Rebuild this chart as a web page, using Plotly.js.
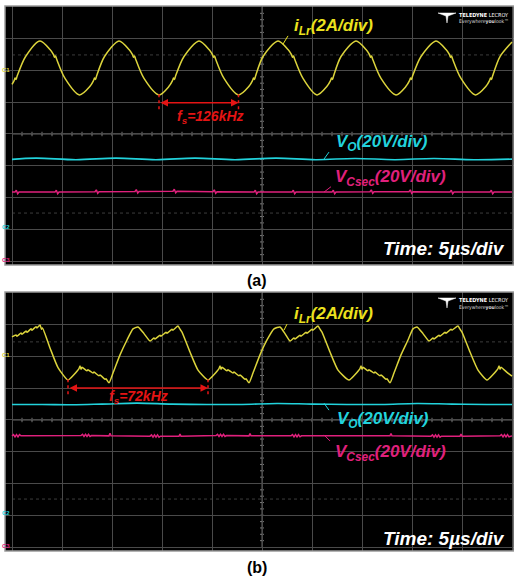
<!DOCTYPE html>
<html>
<head>
<meta charset="utf-8">
<script src="https://cdn.plot.ly/plotly-3.0.1.min.js"></script>
<style>html,body{margin:0;padding:0;background:#fff;}#chart{width:514px;height:581px;}</style>
</head>
<body>
<div id="chart"></div>
<script>
// ---------- DATA (time in µs, amplitude in screen divisions) ----------
// Panel (a): f_s = 126 kHz
const tA_iLr = [0, 0.21,0.31,0.41,0.51, 1.36, 2.8, 3.8, 4.15,4.25,4.35,4.45, 5.3, 6.75, 7.8, 8.15,8.25,8.35,8.45, 9.25,
  10.7, 11.7, 12.05,12.15,12.25,12.35, 13.2, 14.7, 15.7, 16.05,16.15,16.25,16.35, 17.2,
  18.7, 19.7, 20.05,20.15,20.25,20.35, 21.2, 22.65, 23.7, 24.05,24.15,24.25,24.35, 25.1,
  26.6, 27.6, 27.95,28.05,28.15,28.25, 29.1, 30.5, 31.5, 31.85,31.95,32.05,32.15, 32.9,
  34.4, 35.4, 35.75,35.85,35.95,36.05, 36.9, 38.4, 39.4, 39.75,39.85,39.95,40.05, 40.9,
  42.4, 43.4, 43.75,43.85,43.95,44.05, 44.9, 46.35, 47.4, 47.75,47.85,47.95,48.05, 48.8, 50.0];
const iLrA = [1.56, 1.68,1.76,1.72,1.82, 2.44, 2.93, 2.66, 2.50,2.42,2.46,2.37, 1.75, 1.23, 1.50, 1.68,1.76,1.72,1.82, 2.44,
  2.93, 2.66, 2.50,2.42,2.46,2.37, 1.75, 1.23, 1.50, 1.68,1.76,1.72,1.82, 2.44,
  2.93, 2.66, 2.50,2.42,2.46,2.37, 1.75, 1.23, 1.50, 1.68,1.76,1.72,1.82, 2.44,
  2.93, 2.66, 2.50,2.42,2.46,2.37, 1.75, 1.23, 1.50, 1.68,1.76,1.72,1.82, 2.44,
  2.93, 2.66, 2.50,2.42,2.46,2.37, 1.75, 1.23, 1.50, 1.68,1.76,1.72,1.82, 2.44,
  2.93, 2.66, 2.50,2.42,2.46,2.37, 1.75, 1.23, 1.50, 1.68,1.76,1.72,1.82, 2.44, 2.90];

const tA_vo = [0, 2.4, 6.4, 10.4, 14.4, 18.3, 22.3, 26.4, 30.4, 34.3, 38.3, 42.2, 46.2, 50];
const voA   = [-0.80, -0.76, -0.81, -0.76, -0.81, -0.76, -0.81, -0.76, -0.81, -0.77, -0.81, -0.77, -0.81, -0.79];

const tA_vc = [0, 0.3,0.43,0.57,0.7, 4.3,4.43,4.57,4.7, 8.3,8.43,8.57,8.7, 12.3,12.43,12.57,12.7,
  16.1,16.23,16.37,16.5, 20.1,20.23,20.37,20.5, 24.2,24.33,24.47,24.6, 28.0,28.13,28.27,28.4,
  32.0,32.13,32.27,32.4, 35.8,35.93,36.07,36.2, 39.7,39.83,39.97,40.1, 43.8,43.93,44.07,44.2,
  47.8,47.93,48.07,48.2, 50];
const vcA = [-1.83, -1.83,-1.77,-1.88,-1.83, -1.83,-1.77,-1.88,-1.83, -1.82,-1.76,-1.87,-1.82, -1.81,-1.75,-1.86,-1.81,
  -1.80,-1.74,-1.85,-1.80, -1.82,-1.76,-1.87,-1.82, -1.83,-1.77,-1.88,-1.83, -1.83,-1.77,-1.88,-1.83,
  -1.83,-1.77,-1.88,-1.83, -1.82,-1.76,-1.87,-1.82, -1.82,-1.76,-1.87,-1.82, -1.83,-1.77,-1.88,-1.83,
  -1.83,-1.77,-1.88,-1.83, -1.83];

// Panel (b): f_s = 72 kHz
const tB_iLr = [0, 0.4,0.5, 0.9,1.0, 1.4,1.5, 1.9,2.0, 2.4,2.5, 2.8, 2.95,3.05, 3.8, 4.6, 5.6,
  6.7,6.8,6.9,7.0, 7.5,7.6, 8.1,8.2, 8.7,8.8, 9.3,9.4, 9.7, 10.1, 10.8, 11.5, 12.1, 12.6, 13.2, 13.8,
  14.2,14.3, 14.8,14.9, 15.4,15.5, 16.0,16.1, 16.6, 16.8, 17.0, 17.8, 18.6, 19.6,
  20.7,20.8,20.9,21.0, 21.5,21.6, 22.1,22.2, 22.7,22.8, 23.3,23.4, 23.7, 24.1, 24.8, 25.5, 26.2, 26.8, 27.3, 27.8,
  28.2,28.3, 28.8,28.9, 29.4,29.5, 30.0,30.1, 30.6, 30.8, 31.0, 31.8, 32.6, 33.7,
  34.8,34.9,35.0,35.1, 35.6,35.7, 36.2,36.3, 36.8,36.9, 37.4,37.5, 37.8, 38.2, 38.9, 39.6, 40.1, 40.5, 41.1, 41.7,
  42.1,42.2, 42.7,42.8, 43.3,43.4, 43.9,44.0, 44.6, 44.8, 45.0, 45.8, 46.6, 47.5,
  48.6,48.7,48.8,48.9, 49.5, 50.0];
const iLrB = [2.62, 2.68,2.64, 2.74,2.70, 2.80,2.76, 2.87,2.83, 2.94,2.90, 2.99, 2.86,2.90, 2.27, 1.65, 1.26,
  1.62,1.70,1.60,1.66, 1.55,1.58, 1.48,1.51, 1.39,1.42, 1.28,1.30, 1.17, 1.48, 2.05, 2.52, 2.87, 2.93, 2.72, 2.49,
  2.58,2.55, 2.67,2.64, 2.76,2.73, 2.86,2.83, 2.96, 2.86, 2.77, 2.14, 1.57, 1.26,
  1.62,1.70,1.60,1.66, 1.55,1.58, 1.48,1.51, 1.39,1.42, 1.28,1.30, 1.17, 1.48, 2.05, 2.52, 2.87, 2.93, 2.72, 2.49,
  2.58,2.55, 2.67,2.64, 2.76,2.73, 2.86,2.83, 2.96, 2.86, 2.77, 2.14, 1.57, 1.26,
  1.62,1.70,1.60,1.66, 1.55,1.58, 1.48,1.51, 1.39,1.42, 1.28,1.30, 1.17, 1.48, 2.05, 2.52, 2.87, 2.93, 2.72, 2.49,
  2.58,2.55, 2.67,2.64, 2.76,2.73, 2.86,2.83, 2.96, 2.86, 2.77, 2.14, 1.57, 1.26,
  1.62,1.70,1.60,1.66, 1.50, 1.38];

const tB_vo = [0, 3, 6, 9, 12.5, 16, 19.5, 23, 26.5, 30, 33.5, 37, 40.5, 44, 47.5, 50];
const voB   = [0.49, 0.49, 0.48, 0.50, 0.53, 0.50, 0.49, 0.49, 0.52, 0.50, 0.49, 0.49, 0.52, 0.50, 0.49, 0.49];

const tB_vc = [0,0.15,0.3,0.45,0.6,0.75,0.9, 6.9,7.05,7.2,7.35,7.5,7.65,7.8,7.95, 9.7,9.8,9.9,
  13.8,13.95,14.1,14.25,14.4,14.55,14.7,14.85, 16.7,16.8,16.9, 20.4,20.55,20.7,20.85,21.0,21.15,21.3,21.45,
  23.7,23.8,23.9, 27.9,28.05,28.2,28.35,28.5,28.65,28.8,28.95, 37.8,37.9,38.0,
  41.9,42.05,42.2,42.35,42.5,42.65,42.8,42.95, 44.8,44.9,45.0, 48.8,48.95,49.1,49.25,49.4,49.55,49.7,50];
const vcB = [-0.50,-0.46,-0.53,-0.46,-0.53,-0.46,-0.50, -0.49,-0.45,-0.52,-0.45,-0.52,-0.45,-0.52,-0.49, -0.50,-0.42,-0.50,
  -0.51,-0.47,-0.54,-0.47,-0.54,-0.47,-0.54,-0.51, -0.51,-0.44,-0.51, -0.49,-0.45,-0.52,-0.45,-0.52,-0.45,-0.52,-0.49,
  -0.50,-0.43,-0.50, -0.50,-0.46,-0.53,-0.46,-0.53,-0.46,-0.53,-0.50, -0.50,-0.43,-0.50,
  -0.51,-0.47,-0.54,-0.47,-0.54,-0.47,-0.54,-0.51, -0.51,-0.44,-0.51, -0.50,-0.46,-0.53,-0.46,-0.53,-0.46,-0.53,-0.50];

// switching-period markers (trough times) and labels
const fsMarkA = [14.7, 22.65];
const fsMarkB = [5.6, 19.6];
const fsTextA = 'f<sub>s</sub>=126kHz';
const fsTextB = 'f<sub>s</sub>=72kHz';
const labelILr = 'i<sub>Lr</sub>(2A/div)';
const labelVo = 'V<sub>O</sub>(20V/div)';
const labelVc = 'V<sub>Csec</sub>(20V/div)';
const labelTime = 'Time: 5\u00B5s/div';
const panelLabels = ['(a)', '(b)'];

// ---------- STYLE ----------
const W = 514, H = 581;
const YEL = '#dcd43c', YEL_T = '#ece21e', CYA = '#22d3dc', MAG = '#e0207c', RED = '#e41414';
const GRID = '#4a4a4a';
const FONT = 'Liberation Sans, Arial, sans-serif';
const NARROW = 'DejaVu Sans Condensed, Liberation Sans Narrow, sans-serif';
const fx = x => x / W, fy = y => 1 - y / H;

function xax(anchor){ return {domain:[fx(5),1], range:[-0.7,50.2], dtick:5, tick0:0, showgrid:true, gridcolor:GRID, gridwidth:1,
  zeroline:false, showticklabels:false, ticks:'', showline:false, anchor:anchor, fixedrange:true}; }
function yax(anchor, top, bot){ return {domain:[fy(bot), fy(top)], range:[-4.126,4.031], dtick:1, tick0:0, showgrid:true, gridcolor:GRID, gridwidth:1,
  zeroline:false, showticklabels:false, ticks:'', showline:false, anchor:anchor, fixedrange:true}; }

const traces = [
  {x:tA_iLr, y:iLrA, xaxis:'x', yaxis:'y', mode:'lines', line:{color:YEL, width:1.5, shape:'spline', smoothing:0.8}},
  {x:tA_vo, y:voA, xaxis:'x', yaxis:'y', mode:'lines', line:{color:CYA, width:1.6, shape:'spline', smoothing:1}},
  {x:tA_vc, y:vcA, xaxis:'x', yaxis:'y', mode:'lines', line:{color:MAG, width:1.5}},
  {x:tB_iLr, y:iLrB, xaxis:'x2', yaxis:'y2', mode:'lines', line:{color:YEL, width:1.5, shape:'spline', smoothing:0.5}},
  {x:tB_vo, y:voB, xaxis:'x2', yaxis:'y2', mode:'lines', line:{color:CYA, width:1.6, shape:'spline', smoothing:1}},
  {x:tB_vc, y:vcB, xaxis:'x2', yaxis:'y2', mode:'lines', line:{color:MAG, width:1.5}}
];

const shapes = [];
const annotations = [];

function decorate(xr, yr, fsMark, fsY, fsText, fsTextY, fsTextX, lead, dotted) {
  const xd = xr + ' domain', yd = yr + ' domain';
  // frame
  shapes.push({type:'rect', xref:xd, yref:yd, x0:0, x1:1, y0:0, y1:1, line:{color:'#9a9a9a', width:1.5}, layer:'above'});
  // center lines with ticks
  shapes.push({type:'line', xref:xr, yref:yr, x0:0, x1:50, y0:0, y1:0, line:{color:'#666', width:1}, layer:'below'});
  shapes.push({type:'line', xref:xr, yref:yr, x0:25, x1:25, y0:-4, y1:4, line:{color:'#666', width:1}, layer:'below'});
  for (let k = 1; k < 50; k++) shapes.push({type:'line', xref:xr, yref:yr, x0:k, x1:k, y0:-0.07, y1:0.07, line:{color:'#777', width:1}, layer:'below'});
  for (let k = -19; k < 20; k++) shapes.push({type:'line', xref:xr, yref:yr, x0:24.8, x1:25.2, y0:k*0.2, y1:k*0.2, line:{color:'#777', width:1}, layer:'below'});
  // faint dotted level lines
  dotted.forEach(v => shapes.push({type:'line', xref:xr, yref:yr, x0:0, x1:50, y0:v, y1:v, line:{color:'#3c3c3c', width:1, dash:'dot'}, layer:'below'}));
  // fs markers
  fsMark.forEach(t => shapes.push({type:'line', xref:xr, yref:yr, x0:t, x1:t, y0:fsY+0.27, y1:fsY-0.25, line:{color:RED, width:1.5, dash:'dot'}}));
  annotations.push({xref:xr, yref:yr, x:fsMark[1], y:fsY, axref:xr, ayref:yr, ax:fsMark[0], ay:fsY, text:'', showarrow:true,
    arrowhead:2, arrowside:'end+start', arrowsize:1, arrowwidth:1.5, arrowcolor:RED, standoff:0, startstandoff:0});
  annotations.push({xref:xr, yref:yr, x:fsTextX, y:fsTextY, text:'<b><i>'+fsText+'</i></b>', showarrow:false,
    font:{family:FONT, size:14, color:RED}, xanchor:'center', yanchor:'middle'});
  // labels
  annotations.push({xref:xr, yref:yr, x:lead.iL[0], y:lead.iL[1], text:'<b><i>'+labelILr+'</i></b>', showarrow:false, font:{family:FONT, size:17, color:YEL_T}, xanchor:'left', yanchor:'middle'});
  annotations.push({xref:xr, yref:yr, x:lead.vo[0], y:lead.vo[1], text:'<b><i>'+labelVo+'</i></b>', showarrow:false, font:{family:FONT, size:17, color:CYA}, xanchor:'left', yanchor:'middle'});
  annotations.push({xref:xr, yref:yr, x:lead.vc[0], y:lead.vc[1], text:'<b><i>'+labelVc+'</i></b>', showarrow:false, font:{family:FONT, size:17, color:MAG}, xanchor:'left', yanchor:'middle'});
  annotations.push({xref:xr, yref:yr, x:49.5, y:lead.time, text:'<b><i>'+labelTime+'</i></b>', showarrow:false, font:{family:FONT, size:19, color:'#ffffff'}, xanchor:'right', yanchor:'middle'});
  // leader lines
  lead.lines.forEach(l => shapes.push({type:'line', xref:xr, yref:yr, x0:l[0], y0:l[1], x1:l[2], y1:l[3], line:{color:l[4], width:1}}));
  // channel markers
  lead.ch.forEach(c => annotations.push({xref:xr, yref:yr, x:-0.05, y:c[0], text:'<b>'+c[2]+'</b>', showarrow:false, font:{family:FONT, size:6, color:c[1]}, xanchor:'right', yanchor:'middle'}));
}

decorate('x', 'y', fsMarkA, 0.98, fsTextA, 0.52, 19.85,
  {iL:[28.0, 3.37], vo:[32.2, -0.28], vc:[32.1, -1.39], time:-3.62,
   lines:[[27.6,3.09,27.1,2.83,YEL_T],[31.7,-0.57,31.2,-0.79,CYA],[31.9,-1.66,31.2,-1.83,MAG]],
   ch:[[2.02,YEL,'C1'],[-2.93,CYA,'C2'],[-3.98,MAG,'C3']]}, [2.49,-2.49]);
decorate('x2', 'y2', fsMarkB, 1.01, fsTextB, 0.72, 12.6,
  {iL:[28.0, 3.31], vo:[32.3, 0.0], vc:[32.1, -1.03], time:-3.72,
   lines:[[27.5,3.02,27.2,2.83,YEL_T],[31.2,0.53,31.7,0.31,CYA],[31.2,-0.47,31.8,-0.66,MAG]],
   ch:[[2.05,YEL,'C1'],[-2.93,CYA,'C2'],[-3.97,MAG,'C3']]}, [2.46,-2.49]);

// logos (Teledyne LeCroy mark)
[[13,23],[298,308]].forEach(([y1,y2]) => {
  shapes.push({type:'path', xref:'paper', yref:'paper', layer:'above',
    path:`M ${fx(438)} ${fy(y1)} L ${fx(456)} ${fy(y1)} L ${fx(448)} ${fy(y1+3)} L ${fx(447)} ${fy(y2)} L ${fx(446)} ${fy(y1+3)} Z`,
    fillcolor:'#ffffff', line:{color:'#ffffff', width:0.5}});
  annotations.push({xref:'paper', yref:'paper', x:fx(511), y:fy(y1+2), text:'<b>TELEDYNE</b> LECROY', showarrow:false, font:{family:NARROW, size:5.5, color:'#ffffff'}, xanchor:'right', yanchor:'middle'});
  annotations.push({xref:'paper', yref:'paper', x:fx(511), y:fy(y1+9), text:'Everywhere<b>you</b>look\u2122', showarrow:false, font:{family:NARROW, size:5, color:'#dddddd'}, xanchor:'right', yanchor:'middle'});
});

// panel labels
annotations.push({xref:'paper', yref:'paper', x:fx(257), y:fy(280), text:'<b>'+panelLabels[0]+'</b>', showarrow:false, font:{family:FONT, size:16, color:'#000'}, xanchor:'center', yanchor:'middle'});
annotations.push({xref:'paper', yref:'paper', x:fx(257), y:fy(567), text:'<b>'+panelLabels[1]+'</b>', showarrow:false, font:{family:FONT, size:16, color:'#000'}, xanchor:'center', yanchor:'middle'});

const layout = {
  width: W, height: H, margin:{l:0, r:0, t:0, b:0}, showlegend:false,
  paper_bgcolor:'#ffffff', plot_bgcolor:'#000000',
  xaxis: xax('y'), yaxis: yax('x', 6, 265),
  xaxis2: xax('y2'), yaxis2: yax('x2', 292, 551),
  shapes: shapes, annotations: annotations
};

Plotly.newPlot('chart', traces, layout, {staticPlot:true, displayModeBar:false});
</script>
</body>
</html>
